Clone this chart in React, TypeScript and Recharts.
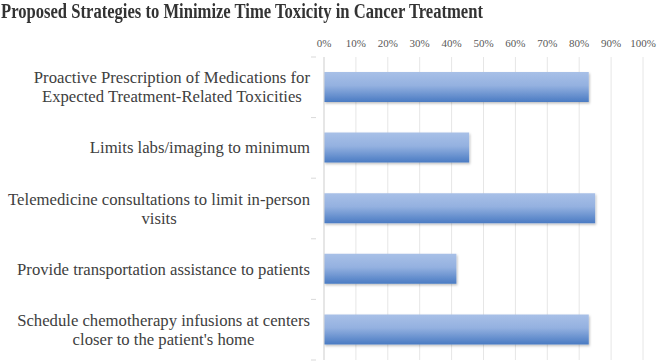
import React from "react";
import { BarChart, Bar, XAxis, YAxis, CartesianGrid } from "recharts";

const TITLE = "Proposed Strategies to Minimize Time Toxicity in Cancer Treatment";
const categories = [
  "Proactive Prescription of Medications for\nExpected Treatment-Related Toxicities",
  "Limits labs/imaging to minimum",
  "Telemedicine consultations to limit in-person\nvisits",
  "Provide transportation assistance to patients",
  "Schedule chemotherapy infusions at centers\ncloser to the patient's home",
];
const values = [83, 45.5, 85, 41.5, 83];
const xTicks = [0, 10, 20, 30, 40, 50, 60, 70, 80, 90, 100];

const data = categories.map((c, i) => ({ name: c, value: values[i] }));

const FONT = '"Liberation Serif", "Times New Roman", serif';
const CAT_SIZE = 16.7;

let ctx: CanvasRenderingContext2D | null = null;
function measure(text: string) {
  if (!ctx) {
    ctx = document.createElement("canvas").getContext("2d");
  }
  if (!ctx) return text.length * 7;
  ctx.font = `${CAT_SIZE}px "Liberation Serif"`;
  return ctx.measureText(text).width;
}

const CatTick = (props: any) => {
  const { x, y, payload, index, visibleTicksCount } = props;
  const lines: string[] = String(payload.value).split("\n");
  const w = Math.max(...lines.map(measure));
  const right = 310;
  const cx = right - w / 2;
  const lh = 19;
  const start = y - ((lines.length - 1) * lh) / 2;
  const half = payload && payload.offset ? payload.offset : 30.3;
  return (
    <g>
      <line x1={x - 5} x2={x} y1={y - half} y2={y - half} stroke="#d9d9d9" />
      {index === visibleTicksCount - 1 && (
        <line x1={x - 5} x2={x} y1={y + half} y2={y + half} stroke="#d9d9d9" />
      )}
      <text
        textAnchor="middle"
        fill="#404040"
        style={{ fontSize: CAT_SIZE, fontFamily: FONT }}
      >
        {lines.map((l, i) => (
          <tspan key={i} x={cx} y={start + i * lh} dominantBaseline="central">
            {l}
          </tspan>
        ))}
      </text>
    </g>
  );
};

const PctTick = (props: any) => {
  const { x, payload } = props;
  return (
    <text
      x={x}
      y={43}
      textAnchor="middle"
      dominantBaseline="central"
      fill="#595959"
      style={{ fontSize: 11, fontFamily: FONT }}
    >
      {`${payload.value}%`}
    </text>
  );
};

export default function App() {
  return (
    <div style={{ position: "absolute", left: 0, top: 0, width: 658, height: 361, background: "#fff" }}>
      <div
        style={{
          position: "absolute",
          left: 1,
          top: -4,
          fontFamily: FONT,
          fontWeight: "bold",
          fontSize: 20,
          color: "#333333",
          whiteSpace: "nowrap",
          lineHeight: "30px",
          transform: "scaleX(0.83)",
          transformOrigin: "0 0",
        }}
      >
        {TITLE}
      </div>
      <BarChart
        width={658}
        height={361}
        data={data}
        layout="vertical"
        margin={{ top: 37, right: 15, bottom: 1, left: 0 }}
        barSize={30}
      >
        <defs>
          <linearGradient id="barGrad" x1="0" y1="0" x2="0" y2="1">
            <stop offset="0%" stopColor="#a8c0e7" />
            <stop offset="45%" stopColor="#94b1e0" />
            <stop offset="100%" stopColor="#4a7bc3" />
          </linearGradient>
          <filter id="shadow" x="-5%" y="-10%" width="110%" height="140%">
            <feDropShadow dx="1" dy="1.5" stdDeviation="1" floodColor="#000" floodOpacity="0.25" />
          </filter>
        </defs>
        <CartesianGrid horizontal={false} stroke="#e6e6e6" />
        <XAxis
          type="number"
          orientation="top"
          domain={[0, 100]}
          ticks={xTicks}
          axisLine={false}
          tickLine={false}
          height={20}
          interval={0}
          tick={<PctTick />}
        />
        <YAxis
          type="category"
          dataKey="name"
          width={324}
          axisLine={{ stroke: "#d9d9d9" }}
          tickLine={false}
          tick={<CatTick />}
          interval={0}
        />
        <Bar dataKey="value" fill="url(#barGrad)" filter="url(#shadow)" isAnimationActive={false} />
      </BarChart>
    </div>
  );
}
